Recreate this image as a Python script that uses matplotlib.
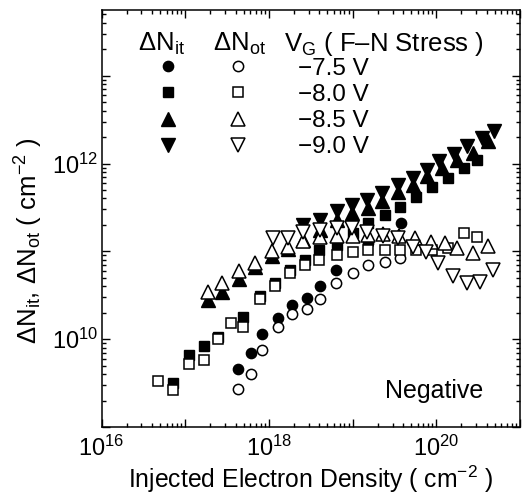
import numpy as np
import matplotlib
matplotlib.use("Agg")
import matplotlib.pyplot as plt
from matplotlib.ticker import LogLocator, FuncFormatter, NullFormatter
from matplotlib.legend_handler import HandlerTuple

plt.rcParams['font.family'] = ['Liberation Sans', 'DejaVu Sans']
plt.rcParams['mathtext.fontset'] = 'custom'
plt.rcParams['mathtext.rm'] = 'Liberation Sans'
plt.rcParams['mathtext.it'] = 'Liberation Sans:italic'
plt.rcParams['mathtext.bf'] = 'Liberation Sans:bold'
plt.rcParams['mathtext.default'] = 'regular'

# ---------------- data ----------------
# -7.5 V
x_75_it = [4.27e17, 6.11e17, 8.27e17, 1.28e18, 1.89e18, 2.85e18, 4.08e18, 6.33e18, 1.53e19, 3.79e19]
y_75_it = [4.54e9, 6.87e9, 1.15e10, 1.74e10, 2.45e10, 2.96e10, 4.03e10, 6.15e10, 1.24e11, 2.10e11]
x_75_ot = [4.27e17, 6.11e17, 8.27e17, 1.28e18, 1.89e18, 2.85e18, 4.08e18, 6.33e18, 1.01e19, 1.53e19, 2.44e19, 3.68e19]
y_75_ot = [2.73e9, 4.06e9, 7.62e9, 1.38e10, 1.91e10, 2.18e10, 2.86e10, 4.37e10, 5.64e10, 6.95e10, 7.64e10, 8.36e10]

# -8.0 V
x_80_it = [7.15e16, 1.11e17, 1.68e17, 2.46e17, 4.90e17, 7.83e17, 1.18e18, 1.79e18, 2.70e18, 3.97e18,
           6.51e18, 1.01e19, 1.53e19, 2.44e19, 3.68e19, 5.72e19, 8.89e19, 1.38e20, 2.14e20, 3.06e20]
y_80_it = [3.14e9, 6.56e9, 8.32e9, 1.07e10, 1.78e10, 3.10e10, 4.37e10, 6.15e10, 7.89e10, 1.04e11,
           1.19e11, 1.63e11, 2.10e11, 2.61e11, 3.17e11, 4.16e11, 5.46e11, 6.87e11, 8.93e11, 1.11e12]
x_80_ot = [4.73e16, 7.15e16, 1.11e17, 1.68e17, 2.46e17, 3.53e17, 4.90e17, 7.83e17, 1.18e18, 1.79e18, 2.70e18,
           3.97e18, 6.51e18, 1.01e19, 1.53e19, 2.44e19, 3.68e19, 5.72e19, 8.89e19, 1.38e20, 2.14e20, 3.06e20]
y_80_ot = [3.31e9, 2.61e9, 5.18e9, 5.75e9, 1.0e10, 1.52e10, 1.37e10, 2.86e10, 3.98e10, 5.64e10, 6.92e10,
           8.0e10, 9.12e10, 9.74e10, 1.04e11, 1.04e11, 1.04e11, 1.04e11, 1.03e11, 1.09e11, 1.61e11, 1.45e11]

# -8.5 V
x_85_it = [1.87e17, 2.75e17, 4.39e17, 6.82e17, 1.09e18, 1.69e18, 2.56e18, 4.08e18, 6.51e18, 9.83e18,
           1.53e19, 2.25e19, 3.49e19, 5.27e19, 7.74e19, 1.17e20, 1.77e20, 2.74e20, 4.15e20]
y_85_it = [2.79e10, 3.47e10, 4.85e10, 6.56e10, 8.89e10, 1.07e11, 1.35e11, 1.76e11, 2.29e11, 2.73e11,
           3.12e11, 3.71e11, 4.70e11, 5.75e11, 7.16e11, 8.93e11, 1.11e12, 1.33e12, 1.80e12]
x_85_ot = [1.87e17, 2.75e17, 4.39e17, 6.82e17, 1.09e18, 1.69e18, 2.56e18, 4.08e18, 6.51e18, 1.01e19,
           1.53e19, 2.31e19, 3.58e19, 5.57e19, 8.65e19, 1.27e20, 1.77e20, 2.74e20, 4.15e20]
y_85_ot = [3.47e10, 4.33e10, 5.98e10, 7.44e10, 1.01e11, 1.13e11, 1.32e11, 1.47e11, 1.48e11, 1.48e11,
           1.54e11, 1.58e11, 1.48e11, 1.42e11, 1.28e11, 1.24e11, 1.09e11, 9.53e10, 1.14e11]

# -9.0 V
x_90_it = [2.56e18, 4.08e18, 6.51e18, 9.83e18, 1.49e19, 2.25e19, 3.49e19, 5.27e19, 7.74e19, 1.08e20,
           1.63e20, 2.33e20, 3.52e20, 4.89e20]
y_90_it = [2.01e11, 2.29e11, 2.85e11, 3.40e11, 3.88e11, 4.63e11, 5.75e11, 6.87e11, 8.54e11, 1.06e12,
           1.27e12, 1.58e12, 1.97e12, 2.34e12]
x_90_ot = [1.12e18, 1.69e18, 2.56e18, 4.08e18, 6.51e18, 9.83e18, 1.49e19, 2.31e19, 3.49e19, 5.27e19,
           7.53e19, 1.05e20, 1.58e20, 2.33e20, 3.33e20, 4.76e20]
y_90_ot = [1.42e11, 1.42e11, 1.68e11, 1.76e11, 1.86e11, 1.84e11, 1.67e11, 1.48e11, 1.43e11, 1.13e11,
           9.74e10, 7.39e10, 5.25e10, 4.33e10, 4.52e10, 6.15e10]

labels = ['\u22127.5 V', '\u22128.0 V', '\u22128.5 V', '\u22129.0 V']
header_cols = ['\u0394N$_{it}$', '\u0394N$_{ot}$', 'V$_{G}$ ( F\u2013N Stress )']
x_limits = [1e16, 1e21]
y_limits = [1e9, 5.6e13]

# ---------------- figure ----------------
fig = plt.figure(figsize=(5.31, 4.99), dpi=100)
ax = fig.add_axes([101.5 / 531, 1 - 427 / 499, 418.5 / 531, 417 / 499])
ax.set_xscale('log')
ax.set_yscale('log')
ax.set_xlim(*x_limits)
ax.set_ylim(*y_limits)

FS = 17
HFS = 18.5
LFS = 17.5
mew = 1.1
filled = dict(ls='none', color='black', mec='black', zorder=3)
opened = dict(ls='none', mfc='white', mec='black', mew=mew, zorder=4)

h75i, = ax.plot(x_75_it, y_75_it, marker='o', ms=7.4, **filled)
h80i, = ax.plot(x_80_it, y_80_it, marker='s', ms=7.0, **filled)
h85i, = ax.plot(x_85_it, y_85_it, marker='^', ms=9.4, **filled)
h90i, = ax.plot(x_90_it, y_90_it, marker='v', ms=9.4, **filled)
h75o, = ax.plot(x_75_ot, y_75_ot, marker='o', ms=7.4, **opened)
h80o, = ax.plot(x_80_ot, y_80_ot, marker='s', ms=7.0, **opened)
h85o, = ax.plot(x_85_ot, y_85_ot, marker='^', ms=9.4, **opened)
h90o, = ax.plot(x_90_ot, y_90_ot, marker='v', ms=9.4, **opened)

# ticks
def fmt(v, pos):
    e = int(round(np.log10(v)))
    return r'$10^{%d}$' % e if e % 2 == 0 else ''

for axis in (ax.xaxis, ax.yaxis):
    axis.set_major_locator(LogLocator(base=10, numticks=20))
    axis.set_minor_locator(LogLocator(base=10, subs=np.arange(2, 10), numticks=20))
    axis.set_major_formatter(FuncFormatter(fmt))
    axis.set_minor_formatter(NullFormatter())

ax.tick_params(which='both', direction='in', top=True, right=True, width=1.0, labelsize=FS)
ax.tick_params(which='major', length=6)
ax.tick_params(which='minor', length=3)
ax.tick_params(axis='y', which='major', pad=2.5)
ax.tick_params(axis='x', which='major', pad=6.5)
for s in ax.spines.values():
    s.set_linewidth(1.1)

ax.set_xlabel('Injected Electron Density ( cm$^{-2}$ )', fontsize=17.8, labelpad=2)
ax.set_ylabel('\u0394N$_{it}$, \u0394N$_{ot}$ ( cm$^{-2}$ )', fontsize=18.5)
ax.yaxis.set_label_coords(-0.135, 0.446)

ax.text(0.795, 0.0695, 'Negative', transform=ax.transAxes, ha='center', va='baseline', fontsize=18)

# header of the legend table
for xpos, txt in zip([0.0872, 0.2664, 0.4361], header_cols):
    ax.text(xpos, 0.9017, txt, transform=ax.transAxes, ha='left', va='baseline', fontsize=HFS)

handles = [(h75i, h75o), (h80i, h80o), (h85i, h85o), (h90i, h90o)]
leg = ax.legend(handles, labels, handler_map={tuple: HandlerTuple(ndivide=None, pad=0.41)},
                loc='upper left', bbox_to_anchor=(0.0872, 0.8856), frameon=False,
                borderpad=0, borderaxespad=0, handlelength=5.35, handletextpad=1.23,
                labelspacing=0.17, fontsize=LFS, numpoints=1)

fig.savefig('out.png', dpi=100)
